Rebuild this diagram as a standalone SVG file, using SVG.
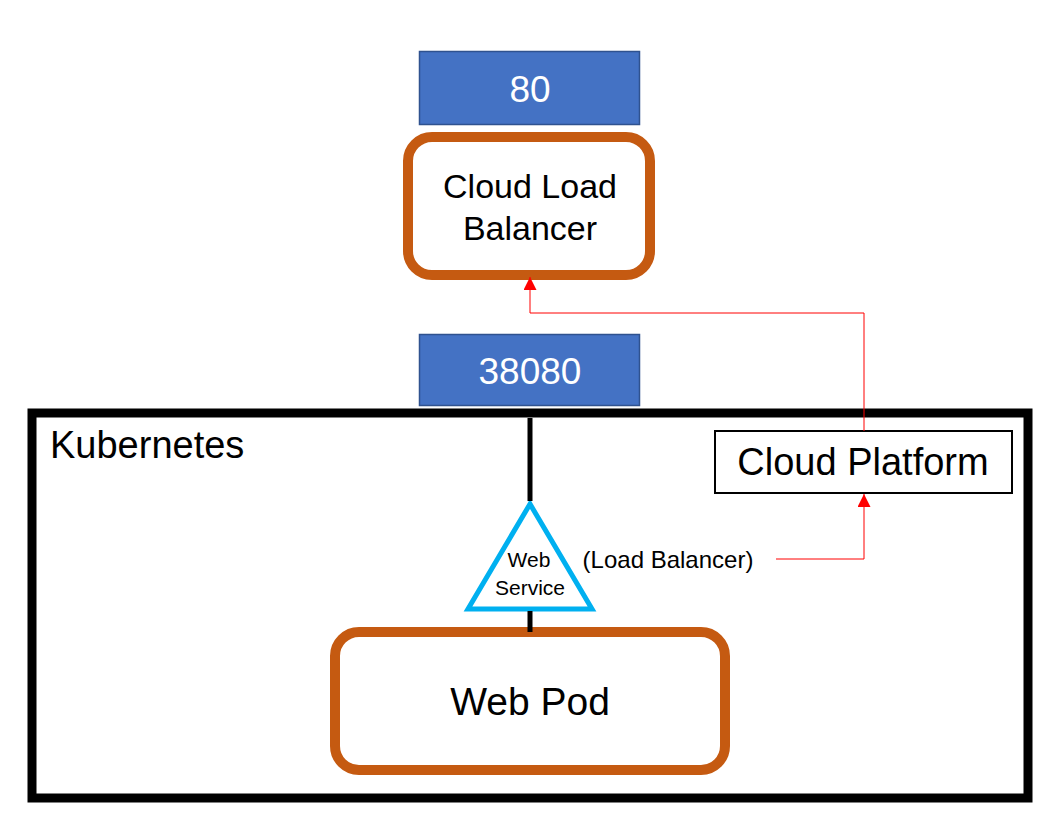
<svg xmlns="http://www.w3.org/2000/svg" width="1063" height="831" viewBox="0 0 1063 831">
<defs>
<style>
text{font-family:"Liberation Sans","Noto Sans",Arial,sans-serif;fill:#000;text-anchor:middle}
.port{fill:#4472C4;stroke:#2F528F;stroke-width:1.5}
.port-t{fill:#fff;font-size:37px}
.round{fill:#fff;stroke:#C55A11;stroke-width:10}
.red{fill:none;stroke:#FF0000;stroke-width:1}
.blk{stroke:#000;stroke-width:5}
</style>
<marker id="arr" markerUnits="userSpaceOnUse" markerWidth="14" markerHeight="14" refX="13" refY="6.5" orient="auto">
<path d="M0,0 L13,6.5 L0,13 Z" fill="#FF0000"/>
</marker>
</defs>
<rect width="1063" height="831" fill="#fff"/>

<g id="kubernetes">
<rect x="32" y="413" width="996" height="385" fill="none" stroke="#000" stroke-width="9"/>
<text x="50" y="458" style="text-anchor:start;font-size:38px">Kubernetes</text>
</g>

<g id="port80">
<rect class="port" x="419.5" y="51.5" width="220" height="73"/>
<text class="port-t" x="530" y="102">80</text>
</g>

<g id="cloud-lb">
<rect class="round" x="408" y="137" width="242" height="138" rx="24"/>
<text x="530" y="198" style="font-size:34px">Cloud Load</text>
<text x="530" y="240" style="font-size:34px">Balancer</text>
</g>

<g id="port38080">
<rect class="port" x="419.5" y="334.5" width="220" height="71"/>
<text class="port-t" x="530" y="384">38080</text>
</g>

<g id="cloud-platform">
<rect x="715" y="431" width="297" height="62" fill="#fff" stroke="#000" stroke-width="2"/>
<text x="863" y="475" style="font-size:38px">Cloud Platform</text>
</g>

<g id="web-service">
<polygon points="530,504 468,609 592,609" fill="#fff" stroke="#00B0F0" stroke-width="5"/>
<text x="529" y="567" style="font-size:21px">Web</text>
<text x="530" y="595" style="font-size:21px">Service</text>
<text x="668" y="568" style="font-size:24px">(Load Balancer)</text>
</g>

<g id="web-pod">
<rect class="round" x="335" y="632" width="390" height="138" rx="24"/>
<text x="530" y="715" style="font-size:39px">Web Pod</text>
</g>

<g id="connectors">
<line class="blk" x1="530" y1="418" x2="530" y2="501"/>
<line class="blk" x1="530" y1="611" x2="530" y2="632"/>
<polyline class="red" points="776,559 864,559 864,494" marker-end="url(#arr)"/>
<polyline class="red" points="864,431 864,313 530,313 530,277" marker-end="url(#arr)"/>
</g>
</svg>
